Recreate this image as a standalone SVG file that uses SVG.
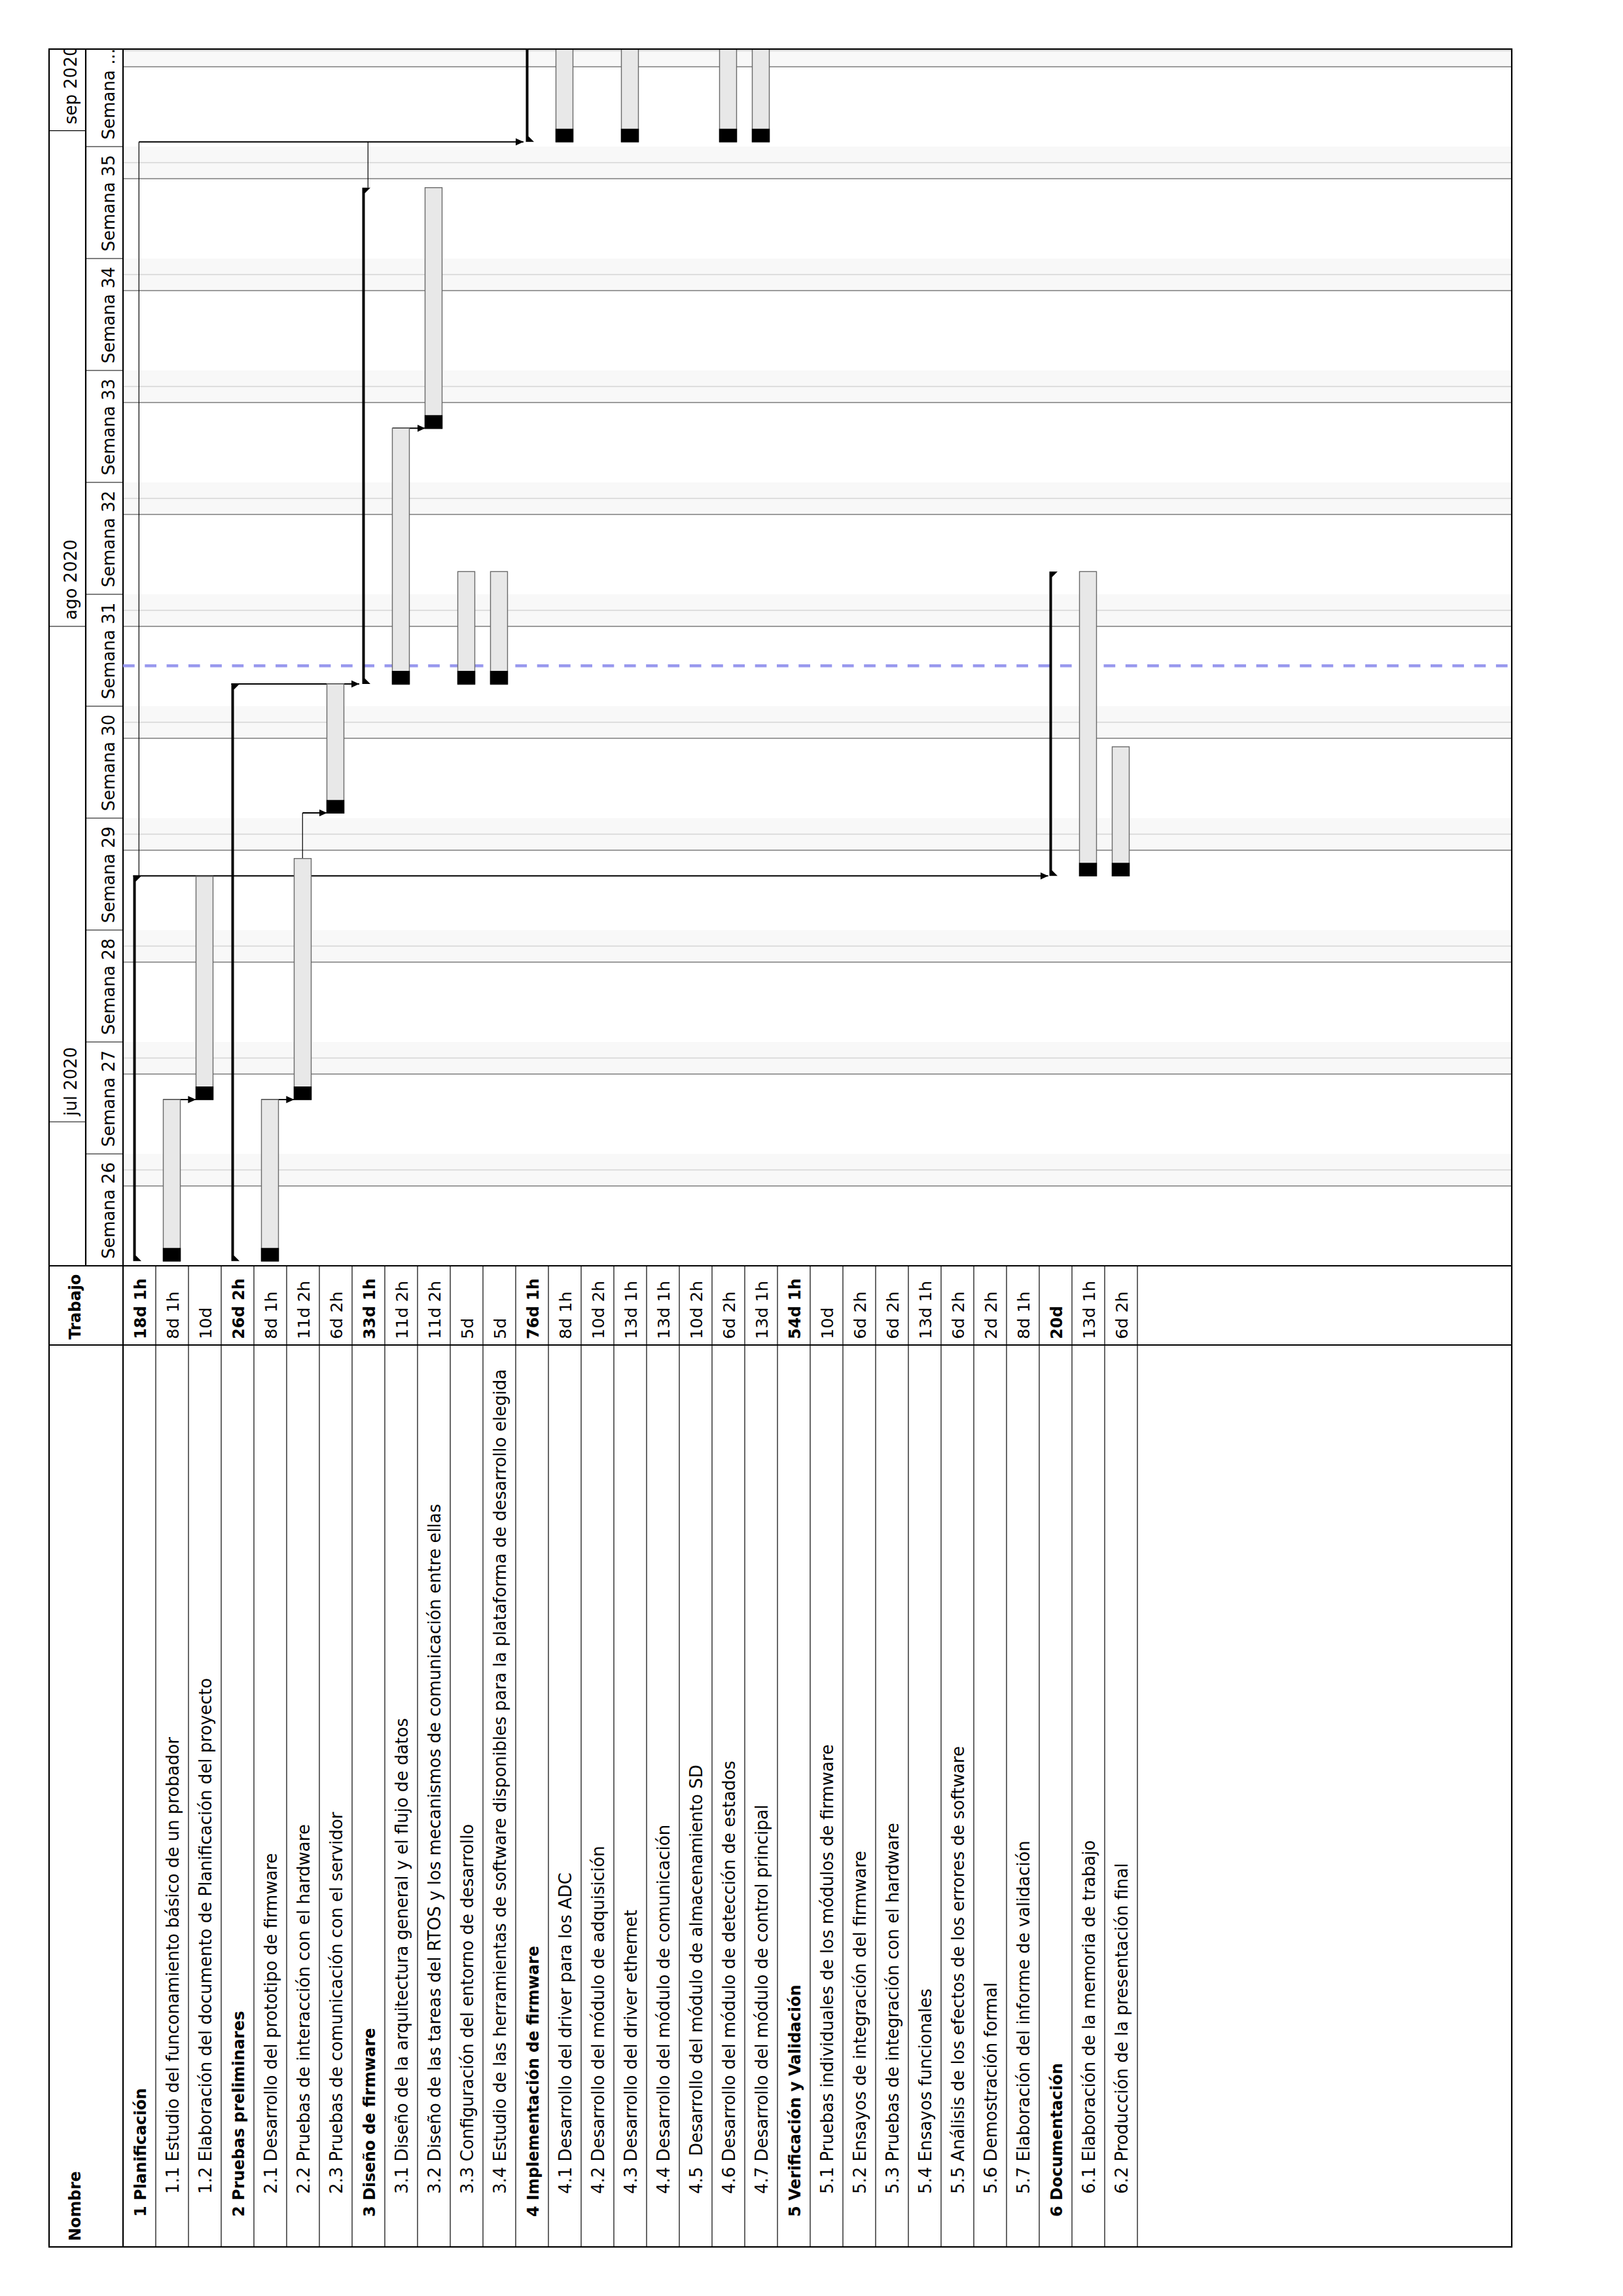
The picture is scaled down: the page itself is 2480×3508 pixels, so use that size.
<svg xmlns="http://www.w3.org/2000/svg" width="2480" height="3508" viewBox="0 0 2480 3508">
<style>
.t{font-family:"DejaVu Sans","Liberation Sans",sans-serif;font-size:25.5px;fill:#000}
.n{font-size:26px}
.b{font-weight:bold;font-size:24px}
.hd{font-family:"DejaVu Sans","Liberation Sans",sans-serif;font-size:26px;fill:#000}
.pre{white-space:pre}
.bar{fill:#e8e8e8;stroke:#6a6a6a;stroke-width:1.4}
.prog{fill:#000}
.sum{fill:#000}
.band{fill:#f8f8f8}
.ln1{stroke:#d4d4d4;stroke-width:1.5}
.ln2{stroke:#9c9c9c;stroke-width:2}
.grid{stroke:#000;stroke-width:1.2}
.frame{stroke:#000;stroke-width:2.2;fill:none}
.conn{fill:none;stroke:#000;stroke-width:2}
.connv{fill:none;stroke:#000;stroke-width:1.2}
.today{stroke:#9898ee;stroke-width:4.5;stroke-dasharray:17.7 15.6}
</style>
<defs>
<marker id="arr" markerUnits="userSpaceOnUse" markerWidth="12" markerHeight="12" viewBox="0 0 12 12" refX="12" refY="6" orient="auto">
<path d="M0,0.5 L12,6 L0,11.5 z" fill="#000"/>
</marker>
<clipPath id="chart"><rect x="188" y="75" width="2122" height="1859"/></clipPath>
<clipPath id="mon"><rect x="75" y="75" width="56" height="1859"/></clipPath>
</defs>
<rect x="0" y="0" width="2480" height="3508" fill="#fff"/>

<!-- weekend bands -->
<g id="weekends" clip-path="url(#chart)">
<rect class="band" x="188" y="1763" width="2122" height="49"/><line class="ln1" x1="188" y1="1787.5" x2="2310" y2="1787.5"/><line class="ln2" x1="188" y1="1812" x2="2310" y2="1812"/>
<rect class="band" x="188" y="1592" width="2122" height="49"/><line class="ln1" x1="188" y1="1616.5" x2="2310" y2="1616.5"/><line class="ln2" x1="188" y1="1641" x2="2310" y2="1641"/>
<rect class="band" x="188" y="1421" width="2122" height="49"/><line class="ln1" x1="188" y1="1445.5" x2="2310" y2="1445.5"/><line class="ln2" x1="188" y1="1470" x2="2310" y2="1470"/>
<rect class="band" x="188" y="1250" width="2122" height="49"/><line class="ln1" x1="188" y1="1274.5" x2="2310" y2="1274.5"/><line class="ln2" x1="188" y1="1299" x2="2310" y2="1299"/>
<rect class="band" x="188" y="1079" width="2122" height="49"/><line class="ln1" x1="188" y1="1103.5" x2="2310" y2="1103.5"/><line class="ln2" x1="188" y1="1128" x2="2310" y2="1128"/>
<rect class="band" x="188" y="908" width="2122" height="49"/><line class="ln1" x1="188" y1="932.5" x2="2310" y2="932.5"/><line class="ln2" x1="188" y1="957" x2="2310" y2="957"/>
<rect class="band" x="188" y="737" width="2122" height="49"/><line class="ln1" x1="188" y1="761.5" x2="2310" y2="761.5"/><line class="ln2" x1="188" y1="786" x2="2310" y2="786"/>
<rect class="band" x="188" y="566" width="2122" height="49"/><line class="ln1" x1="188" y1="590.5" x2="2310" y2="590.5"/><line class="ln2" x1="188" y1="615" x2="2310" y2="615"/>
<rect class="band" x="188" y="395" width="2122" height="49"/><line class="ln1" x1="188" y1="419.5" x2="2310" y2="419.5"/><line class="ln2" x1="188" y1="444" x2="2310" y2="444"/>
<rect class="band" x="188" y="224" width="2122" height="49"/><line class="ln1" x1="188" y1="248.5" x2="2310" y2="248.5"/><line class="ln2" x1="188" y1="273" x2="2310" y2="273"/>
<rect class="band" x="188" y="53" width="2122" height="49"/><line class="ln1" x1="188" y1="77.5" x2="2310" y2="77.5"/><line class="ln2" x1="188" y1="102" x2="2310" y2="102"/>
</g>

<!-- header: months and weeks -->
<g id="timeline-header">
<line class="grid" x1="75" y1="1714" x2="131" y2="1714"/>
<line class="grid" x1="75" y1="957" x2="131" y2="957"/>
<line class="grid" x1="75" y1="199.6" x2="131" y2="199.6"/>
<g clip-path="url(#mon)">
<text class="hd" transform="translate(117,1705) rotate(-90)">jul 2020</text>
<text class="hd" transform="translate(117,947) rotate(-90)">ago 2020</text>
<text class="hd" transform="translate(117,190) rotate(-90)">sep 2020</text>
</g>
<line class="grid" x1="131" y1="1763" x2="188" y2="1763"/>
<line class="grid" x1="131" y1="1592" x2="188" y2="1592"/>
<line class="grid" x1="131" y1="1421" x2="188" y2="1421"/>
<line class="grid" x1="131" y1="1250" x2="188" y2="1250"/>
<line class="grid" x1="131" y1="1079" x2="188" y2="1079"/>
<line class="grid" x1="131" y1="908" x2="188" y2="908"/>
<line class="grid" x1="131" y1="737" x2="188" y2="737"/>
<line class="grid" x1="131" y1="566" x2="188" y2="566"/>
<line class="grid" x1="131" y1="395" x2="188" y2="395"/>
<line class="grid" x1="131" y1="224" x2="188" y2="224"/>
<text class="hd" transform="translate(175,1923.3) rotate(-90)">Semana 26</text>
<text class="hd" transform="translate(175,1752.3) rotate(-90)">Semana 27</text>
<text class="hd" transform="translate(175,1581.3) rotate(-90)">Semana 28</text>
<text class="hd" transform="translate(175,1410.3) rotate(-90)">Semana 29</text>
<text class="hd" transform="translate(175,1239.3) rotate(-90)">Semana 30</text>
<text class="hd" transform="translate(175,1068.3) rotate(-90)">Semana 31</text>
<text class="hd" transform="translate(175,897.3) rotate(-90)">Semana 32</text>
<text class="hd" transform="translate(175,726.3) rotate(-90)">Semana 33</text>
<text class="hd" transform="translate(175,555.3) rotate(-90)">Semana 34</text>
<text class="hd" transform="translate(175,384.3) rotate(-90)">Semana 35</text>
<text class="hd" transform="translate(175,213.3) rotate(-90)">Semana ...</text>
</g>

<!-- table frame -->
<g id="table-grid">
<line class="grid" x1="238" y1="1934" x2="238" y2="3433"/>
<line class="grid" x1="288" y1="1934" x2="288" y2="3433"/>
<line class="grid" x1="338" y1="1934" x2="338" y2="3433"/>
<line class="grid" x1="388" y1="1934" x2="388" y2="3433"/>
<line class="grid" x1="438" y1="1934" x2="438" y2="3433"/>
<line class="grid" x1="488" y1="1934" x2="488" y2="3433"/>
<line class="grid" x1="538" y1="1934" x2="538" y2="3433"/>
<line class="grid" x1="588" y1="1934" x2="588" y2="3433"/>
<line class="grid" x1="638" y1="1934" x2="638" y2="3433"/>
<line class="grid" x1="688" y1="1934" x2="688" y2="3433"/>
<line class="grid" x1="738" y1="1934" x2="738" y2="3433"/>
<line class="grid" x1="788" y1="1934" x2="788" y2="3433"/>
<line class="grid" x1="838" y1="1934" x2="838" y2="3433"/>
<line class="grid" x1="888" y1="1934" x2="888" y2="3433"/>
<line class="grid" x1="938" y1="1934" x2="938" y2="3433"/>
<line class="grid" x1="988" y1="1934" x2="988" y2="3433"/>
<line class="grid" x1="1038" y1="1934" x2="1038" y2="3433"/>
<line class="grid" x1="1088" y1="1934" x2="1088" y2="3433"/>
<line class="grid" x1="1138" y1="1934" x2="1138" y2="3433"/>
<line class="grid" x1="1188" y1="1934" x2="1188" y2="3433"/>
<line class="grid" x1="1238" y1="1934" x2="1238" y2="3433"/>
<line class="grid" x1="1288" y1="1934" x2="1288" y2="3433"/>
<line class="grid" x1="1338" y1="1934" x2="1338" y2="3433"/>
<line class="grid" x1="1388" y1="1934" x2="1388" y2="3433"/>
<line class="grid" x1="1438" y1="1934" x2="1438" y2="3433"/>
<line class="grid" x1="1488" y1="1934" x2="1488" y2="3433"/>
<line class="grid" x1="1538" y1="1934" x2="1538" y2="3433"/>
<line class="grid" x1="1588" y1="1934" x2="1588" y2="3433"/>
<line class="grid" x1="1638" y1="1934" x2="1638" y2="3433"/>
<line class="grid" x1="1688" y1="1934" x2="1688" y2="3433"/>
<line class="grid" x1="1738" y1="1934" x2="1738" y2="3433"/>
<line class="frame" x1="131" y1="75" x2="131" y2="1934"/>
<line class="frame" x1="188" y1="75" x2="188" y2="3433"/>
<line class="frame" x1="75" y1="1934" x2="2310" y2="1934"/>
<line class="frame" x1="75" y1="2055" x2="2310" y2="2055"/>
<text class="t b" transform="translate(122.5,2046.5) rotate(-90)">Trabajo</text>
<text class="t b" transform="translate(122.5,3424) rotate(-90)">Nombre</text>
</g>

<!-- today line -->
<line id="today" class="today" x1="188" y1="1017.3" x2="2310" y2="1017.3"/>

<!-- connectors -->
<g id="connectors">
<path class="conn" d="M249.3,1680 H299.3" marker-end="url(#arr)"/>
<path class="conn" d="M399.3,1680 H449.3" marker-end="url(#arr)"/>
<path class="connv" d="M462.3,1311.7 V1242"/>
<path class="conn" d="M462.3,1242 H499.7" marker-end="url(#arr)"/>
<path class="conn" d="M353.3,1045 H549" marker-end="url(#arr)"/>
<path class="conn" d="M599.7,654.3 H649.7" marker-end="url(#arr)"/>
<path class="conn" d="M203.3,1338.3 H1601.7" marker-end="url(#arr)"/>
<path class="connv" d="M212.3,1338.3 V216.7"/>
<path class="conn" d="M212.3,216.7 H800" marker-end="url(#arr)"/>
<path class="connv" d="M562.3,286.7 V216.7"/>
</g>

<!-- tasks -->
<g id="task-1">
<text class="t b" transform="translate(223.3,2046) rotate(-90)">18d 1h</text>
<text class="t b" transform="translate(223.3,3387) rotate(-90)">1 Planificación</text>
<polygon class="sum" points="203.5,1338.3 216,1338.3 207.5,1346.8 207.5,1918.2 216,1926.7 203.5,1926.7"/>
</g>
<g id="task-1-1">
<text class="t" transform="translate(273.3,2046) rotate(-90)">8d 1h</text>
<text class="t n" transform="translate(273.3,3352) rotate(-90)">1.1 Estudio del funconamiento básico de un probador</text>
<rect class="bar" x="249.5" y="1680" width="26" height="246.7"/><rect class="prog" x="248.8" y="1906.7" width="27.4" height="20.7"/>
</g>
<g id="task-1-2">
<text class="t" transform="translate(323.3,2046) rotate(-90)">10d</text>
<text class="t n" transform="translate(323.3,3352) rotate(-90)">1.2 Elaboración del documento de Planificación del proyecto</text>
<rect class="bar" x="299.5" y="1339" width="26" height="341"/><rect class="prog" x="298.8" y="1660" width="27.4" height="20.7"/>
</g>
<g id="task-2">
<text class="t b" transform="translate(373.3,2046) rotate(-90)">26d 2h</text>
<text class="t b" transform="translate(373.3,3387) rotate(-90)">2 Pruebas preliminares</text>
<polygon class="sum" points="353.5,1045 366,1045 357.5,1053.5 357.5,1918.2 366,1926.7 353.5,1926.7"/>
</g>
<g id="task-2-1">
<text class="t" transform="translate(423.3,2046) rotate(-90)">8d 1h</text>
<text class="t n" transform="translate(423.3,3352) rotate(-90)">2.1 Desarrollo del prototipo de firmware</text>
<rect class="bar" x="399.5" y="1680" width="26" height="246.7"/><rect class="prog" x="398.8" y="1906.7" width="27.4" height="20.7"/>
</g>
<g id="task-2-2">
<text class="t" transform="translate(473.3,2046) rotate(-90)">11d 2h</text>
<text class="t n" transform="translate(473.3,3352) rotate(-90)">2.2 Pruebas de interacción con el hardware</text>
<rect class="bar" x="449.5" y="1311.7" width="26" height="368.3"/><rect class="prog" x="448.8" y="1660" width="27.4" height="20.7"/>
</g>
<g id="task-2-3">
<text class="t" transform="translate(523.3,2046) rotate(-90)">6d 2h</text>
<text class="t n" transform="translate(523.3,3352) rotate(-90)">2.3 Pruebas de comunicación con el servidor</text>
<rect class="bar" x="499.5" y="1045" width="26" height="197.3"/><rect class="prog" x="498.8" y="1222.3" width="27.4" height="20.7"/>
</g>
<g id="task-3">
<text class="t b" transform="translate(573.3,2046) rotate(-90)">33d 1h</text>
<text class="t b" transform="translate(573.3,3387) rotate(-90)">3 Diseño de firmware</text>
<polygon class="sum" points="553.5,286.7 566,286.7 557.5,295.2 557.5,1036.5 566,1045 553.5,1045"/>
</g>
<g id="task-3-1">
<text class="t" transform="translate(623.3,2046) rotate(-90)">11d 2h</text>
<text class="t n" transform="translate(623.3,3352) rotate(-90)">3.1 Diseño de la arquitectura general y el flujo de datos</text>
<rect class="bar" x="599.5" y="654.3" width="26" height="391.4"/><rect class="prog" x="598.8" y="1025" width="27.4" height="20.7"/>
</g>
<g id="task-3-2">
<text class="t" transform="translate(673.3,2046) rotate(-90)">11d 2h</text>
<text class="t n" transform="translate(673.3,3352) rotate(-90)">3.2 Diseño de las tareas del RTOS y los mecanismos de comunicación entre ellas</text>
<rect class="bar" x="649.5" y="286.7" width="26" height="368.3"/><rect class="prog" x="648.8" y="634.3" width="27.4" height="20.7"/>
</g>
<g id="task-3-3">
<text class="t" transform="translate(723.3,2046) rotate(-90)">5d</text>
<text class="t n" transform="translate(723.3,3352) rotate(-90)">3.3 Configuración del entorno de desarrollo</text>
<rect class="bar" x="699.5" y="873.3" width="26" height="172.4"/><rect class="prog" x="698.8" y="1025" width="27.4" height="20.7"/>
</g>
<g id="task-3-4">
<text class="t" transform="translate(773.3,2046) rotate(-90)">5d</text>
<text class="t n" transform="translate(773.3,3352) rotate(-90)">3.4 Estudio de las herramientas de software disponibles para la plataforma de desarrollo elegida</text>
<rect class="bar" x="749.5" y="873.3" width="26" height="172.4"/><rect class="prog" x="748.8" y="1025" width="27.4" height="20.7"/>
</g>
<g id="task-4">
<text class="t b" transform="translate(823.3,2046) rotate(-90)">76d 1h</text>
<text class="t b" transform="translate(823.3,3387) rotate(-90)">4 Implementación de firmware</text>
<polygon class="sum" points="803.5,76 807.5,76 807.5,208.2 816,216.7 803.5,216.7"/>
</g>
<g id="task-4-1">
<text class="t" transform="translate(873.3,2046) rotate(-90)">8d 1h</text>
<text class="t n" transform="translate(873.3,3352) rotate(-90)">4.1 Desarrollo del driver para los ADC</text>
<rect class="bar" x="849.5" y="70" width="26" height="146.7"/><rect class="prog" x="848.8" y="196.7" width="27.4" height="20.7"/>
</g>
<g id="task-4-2">
<text class="t" transform="translate(923.3,2046) rotate(-90)">10d 2h</text>
<text class="t n" transform="translate(923.3,3352) rotate(-90)">4.2 Desarrollo del módulo de adquisición</text>
</g>
<g id="task-4-3">
<text class="t" transform="translate(973.3,2046) rotate(-90)">13d 1h</text>
<text class="t n" transform="translate(973.3,3352) rotate(-90)">4.3 Desarrollo del driver ethernet</text>
<rect class="bar" x="949.5" y="70" width="26" height="146.7"/><rect class="prog" x="948.8" y="196.7" width="27.4" height="20.7"/>
</g>
<g id="task-4-4">
<text class="t" transform="translate(1023.3,2046) rotate(-90)">13d 1h</text>
<text class="t n" transform="translate(1023.3,3352) rotate(-90)">4.4 Desarrollo del módulo de comunicación</text>
</g>
<g id="task-4-5">
<text class="t" transform="translate(1073.3,2046) rotate(-90)">10d 2h</text>
<text class="t n pre" transform="translate(1073.3,3352) rotate(-90)">4.5  Desarrollo del módulo de almacenamiento SD</text>
</g>
<g id="task-4-6">
<text class="t" transform="translate(1123.3,2046) rotate(-90)">6d 2h</text>
<text class="t n" transform="translate(1123.3,3352) rotate(-90)">4.6 Desarrollo del módulo de detección de estados</text>
<rect class="bar" x="1099.5" y="70" width="26" height="146.7"/><rect class="prog" x="1098.8" y="196.7" width="27.4" height="20.7"/>
</g>
<g id="task-4-7">
<text class="t" transform="translate(1173.3,2046) rotate(-90)">13d 1h</text>
<text class="t n" transform="translate(1173.3,3352) rotate(-90)">4.7 Desarrollo del módulo de control principal</text>
<rect class="bar" x="1149.5" y="70" width="26" height="146.7"/><rect class="prog" x="1148.8" y="196.7" width="27.4" height="20.7"/>
</g>
<g id="task-5">
<text class="t b" transform="translate(1223.3,2046) rotate(-90)">54d 1h</text>
<text class="t b" transform="translate(1223.3,3387) rotate(-90)">5 Verificación y Validación</text>
</g>
<g id="task-5-1">
<text class="t" transform="translate(1273.3,2046) rotate(-90)">10d</text>
<text class="t n" transform="translate(1273.3,3352) rotate(-90)">5.1 Pruebas individuales de los módulos de firmware</text>
</g>
<g id="task-5-2">
<text class="t" transform="translate(1323.3,2046) rotate(-90)">6d 2h</text>
<text class="t n" transform="translate(1323.3,3352) rotate(-90)">5.2 Ensayos de integración del firmware</text>
</g>
<g id="task-5-3">
<text class="t" transform="translate(1373.3,2046) rotate(-90)">6d 2h</text>
<text class="t n" transform="translate(1373.3,3352) rotate(-90)">5.3 Pruebas de integración con el hardware</text>
</g>
<g id="task-5-4">
<text class="t" transform="translate(1423.3,2046) rotate(-90)">13d 1h</text>
<text class="t n" transform="translate(1423.3,3352) rotate(-90)">5.4 Ensayos funcionales</text>
</g>
<g id="task-5-5">
<text class="t" transform="translate(1473.3,2046) rotate(-90)">6d 2h</text>
<text class="t n" transform="translate(1473.3,3352) rotate(-90)">5.5 Análisis de los efectos de los errores de software</text>
</g>
<g id="task-5-6">
<text class="t" transform="translate(1523.3,2046) rotate(-90)">2d 2h</text>
<text class="t n" transform="translate(1523.3,3352) rotate(-90)">5.6 Demostración formal</text>
</g>
<g id="task-5-7">
<text class="t" transform="translate(1573.3,2046) rotate(-90)">8d 1h</text>
<text class="t n" transform="translate(1573.3,3352) rotate(-90)">5.7 Elaboración del informe de validación</text>
</g>
<g id="task-6">
<text class="t b" transform="translate(1623.3,2046) rotate(-90)">20d</text>
<text class="t b" transform="translate(1623.3,3387) rotate(-90)">6 Documentación</text>
<polygon class="sum" points="1603.5,873.3 1616,873.3 1607.5,881.8 1607.5,1329.8 1616,1338.3 1603.5,1338.3"/>
</g>
<g id="task-6-1">
<text class="t" transform="translate(1673.3,2046) rotate(-90)">13d 1h</text>
<text class="t n" transform="translate(1673.3,3352) rotate(-90)">6.1 Elaboración de la memoria de trabajo</text>
<rect class="bar" x="1649.5" y="873.3" width="26" height="465"/><rect class="prog" x="1648.8" y="1318.3" width="27.4" height="20.7"/>
</g>
<g id="task-6-2">
<text class="t" transform="translate(1723.3,2046) rotate(-90)">6d 2h</text>
<text class="t n" transform="translate(1723.3,3352) rotate(-90)">6.2 Producción de la presentación final</text>
<rect class="bar" x="1699.5" y="1141" width="26" height="197.3"/><rect class="prog" x="1698.8" y="1318.3" width="27.4" height="20.7"/>
</g>

<rect x="0" y="0" width="2480" height="74" fill="#fff"/>
<rect class="frame" x="75" y="75" width="2235" height="3358"/>
</svg>
